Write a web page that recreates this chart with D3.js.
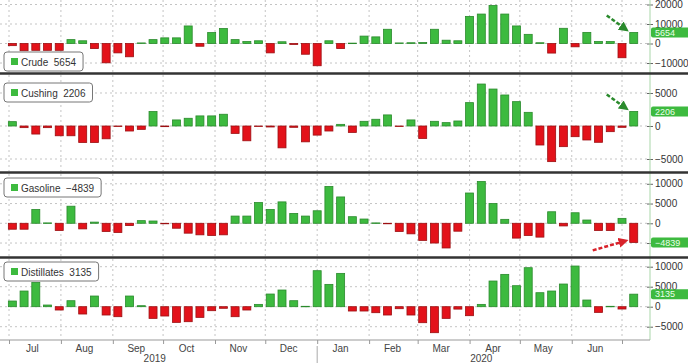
<!DOCTYPE html>
<html>
<head>
<meta charset="utf-8">
<script src="https://cdn.jsdelivr.net/npm/d3@7"></script>
<style>
  body { margin: 0; background: #fff; }
  text { font-family: "Liberation Sans", Arial, sans-serif; }
</style>
</head>
<body>
<div id="chart"></div>
<script>
let width = 688;
let height = 364;

// weekly EIA report dates (Wednesdays), Jul 2019 -> Jul 2020
let weeks = d3.timeWednesday.range(new Date(2019, 6, 3), new Date(2020, 6, 9));

// weekly inventory changes (thousand barrels)
let crude = [-1100, -3700, -3500, -3500, -3500, 2000, 1400, -2600, -9900, -4800, -6800, 300, 2000, 2900, 2900, 9000, -1400, 5600, 7700,
  2000, 1000, 1400, -4800, 900, -500, -5500, -11400, 1400, -2600, 200, 3800, 3400, 7300, 300, 400, 500, 7300, 1700, 1400,
  13900, 15100, 19500, 15100, 9000, 4700, 400, -4900, 7800, -1700, 5700, 1000, 1000, -7300, 5654];
let cushing = [660, -250, -1220, -250, -1480, -1480, -2500, -2500, -1940, -80, -760, -510, 2190, -100, 920, 1170, 1530, 1530, 1780,
  -1120, -2240, -50, -150, -3310, -200, -2400, -1380, -760, 250, -970, 710, 1020, 1680, -80, 920, -1890, 710, 510, 760,
  3540, 6360, 5600, 4700, 3690, 2070, -2880, -5400, -3130, -1620, -2120, -2470, -860, -200, 2206];
let gasoline = [-1500, -1500, 3500, 100, -1830, 4330, -1420, 300, -2080, -2330, -580, 670, 580, -80, -1250, -2500, -2920, -3080, -2920,
  1830, 1830, 5250, 3500, 5420, 2500, 1830, 3170, 9330, 6670, 1670, 1080, 100, -100, -2080, -2670, -4330, -5000, -6250, -2000,
  7670, 10580, 5000, 1000, -3750, -3080, -3500, 2920, -670, 2670, 830, -1830, -1830, 1250, -4839];
let distillates = [1420, 3920, 6080, 420, -830, 1500, -1830, 2670, -2080, -2500, 2670, 250, -2920, -2330, -3920, -3750, -2670, -1000, -400,
  -2500, -830, 580, 3170, 4170, 1500, 100, 9000, 5580, 8330, -1080, -1080, -1500, -2080, -500, -2080, -4000, -6500, -2920, -600,
  -2250, 580, 6420, 8080, 5250, 9750, 3500, 3920, 5670, 10170, 1670, -1420, 100, -580, 3135];

let crudeTicks = [-10000, 0, 10000, 20000];
let cushingTicks = [-5000, 0, 5000];
let gasolineTicks = [-5000, 0, 5000, 10000];
let distillatesTicks = [-5000, 0, 5000, 10000];

let monthLabels = ["Jul", "Aug", "Sep", "Oct", "Nov", "Dec", "Jan", "Feb", "Mar", "Apr", "May", "Jun"];
let yearLabels = ["2019", "2020"];

let green = "#3dba3f", greenDark = "#2a8a2c";
let red = "#e3121a", redDark = "#9c0f12";

// panel layout
let panels = [
  { name: "Crude", values: crude, ticks: crudeTicks, top: 0, bottom: 72, domain: [-14600, 22300], legendY: 52, arrow: "green" },
  { name: "Cushing", values: cushing, ticks: cushingTicks, top: 75, bottom: 171, domain: [-6818, 7727], legendY: 83, arrow: "green" },
  { name: "Gasoline", values: gasoline, ticks: gasolineTicks, top: 174, bottom: 256, domain: [-8280, 12480], legendY: 178, arrow: "red" },
  { name: "Distillates", values: distillates, ticks: distillatesTicks, top: 259, bottom: 339, domain: [-8075, 11925], legendY: 262, arrow: null },
];

let plotRight = 650;

let svg = d3.select("#chart").append("svg").attr("width", width).attr("height", height);

let defs = svg.append("defs");
[["green", greenDark], ["red", "#d8222a"]].forEach(([id, col]) => {
  defs.append("marker").attr("id", "arr-" + id)
    .attr("viewBox", "0 0 10 10").attr("refX", 5).attr("refY", 5)
    .attr("markerWidth", 4).attr("markerHeight", 4).attr("orient", "auto")
    .append("path").attr("d", "M0,0 L10,5 L0,10 z").attr("fill", col);
});

let xScale = d3.scaleTime()
  .domain([new Date(2019, 6, 1), new Date(2020, 6, 1)])
  .range([9, 622]);

let monthStarts = d3.timeMonth.range(new Date(2019, 6, 1), new Date(2020, 6, 2));

panels.forEach((p) => {
  let g = svg.append("g").classed("panel", true);
  let yScale = d3.scaleLinear().domain(p.domain).range([p.bottom, p.top]);

  // grid
  g.selectAll(".hgrid").data(p.ticks).enter().append("line")
    .attr("x1", 0).attr("x2", plotRight)
    .attr("y1", (d) => yScale(d)).attr("y2", (d) => yScale(d))
    .attr("stroke", "#c4c4c4").attr("stroke-dasharray", "2,3");
  g.selectAll(".vgrid").data(monthStarts).enter().append("line")
    .attr("x1", (d) => xScale(d)).attr("x2", (d) => xScale(d))
    .attr("y1", p.top).attr("y2", p.bottom)
    .attr("stroke", "#c4c4c4").attr("stroke-dasharray", "2,3");

  // bars
  let data = p.values.map((v, i) => ({ date: weeks[i], value: v }));
  g.selectAll(".bar").data(data).enter().append("rect")
    .attr("x", (d) => xScale(d.date) - 4)
    .attr("width", 8)
    .attr("y", (d) => Math.min(yScale(d.value), yScale(0)))
    .attr("height", (d) => Math.max(0.5, Math.abs(yScale(d.value) - yScale(0))))
    .attr("fill", (d) => (d.value >= 0 ? green : red))
    .attr("stroke", (d) => (d.value >= 0 ? greenDark : redDark))
    .attr("stroke-width", 0.8);

  let last = data[data.length - 1];
  let ly = yScale(last.value);

  // right axis; a tick label fully under the value tag is left out, as on the original
  let yAxis = d3.axisRight(yScale).tickValues(p.ticks).tickSizeInner(3).tickSizeOuter(0)
    .tickFormat((d) => (Math.abs(yScale(d) - ly) < 4 ? "" : d3.format("d")(d)));
  let ax = g.append("g").attr("transform", `translate(${plotRight},0)`).call(yAxis);
  ax.select(".domain").remove();
  ax.selectAll(".tick line").attr("x1", -3).attr("x2", 3).attr("stroke", "#666");
  ax.selectAll(".tick text").attr("x", 5).attr("fill", "#333").style("font-size", "10px").style("font-family", "Liberation Sans, Arial, sans-serif");

  // last value tag
  g.append("rect").attr("x", plotRight + 1).attr("y", ly - 5).attr("width", 40).attr("height", 10)
    .attr("rx", 2).attr("fill", green);
  g.append("text").attr("x", plotRight + 5).attr("y", ly + 3.2).attr("fill", "#eaffea")
    .style("font-size", "9px").text(d3.format("d")(last.value));

  // legend box
  let lg = g.append("g").attr("transform", `translate(4,${p.legendY})`);
  let box = lg.append("rect").attr("height", 19).attr("rx", 3)
    .attr("fill", "#fff").attr("stroke", "#777").attr("stroke-width", 1);
  lg.append("rect").attr("x", 7).attr("y", 6).attr("width", 7).attr("height", 7).attr("fill", green);
  let lt = lg.append("text").attr("x", 17).attr("y", 13.5).attr("fill", "#333")
    .style("font-size", "10px").text(p.name + "  " + d3.format("d")(last.value));
  lt.attr("xml:space", "preserve");
  box.attr("width", lt.node().getComputedTextLength() + 24);

  // annotation arrows pointing at the latest bar
  if (p.arrow) {
    let cx = xScale(last.date);
    let pts;
    if (p.arrow === "green") {
      pts = [cx - 27, ly - 17, cx - 9, ly - 4];
    } else {
      pts = [cx - 41, ly + 8, cx - 10, ly - 1];
    }
    g.append("line").attr("x1", pts[0]).attr("y1", pts[1]).attr("x2", pts[2]).attr("y2", pts[3])
      .attr("stroke", p.arrow === "green" ? greenDark : "#d8222a")
      .attr("stroke-width", 2.5).attr("stroke-dasharray", "4,2")
      .attr("marker-end", `url(#arr-${p.arrow})`);
  }
});

// right axis line
svg.append("line").attr("x1", plotRight).attr("x2", plotRight).attr("y1", 0).attr("y2", 340)
  .attr("stroke", "#a9d6a9").attr("stroke-width", 1);

// panel separators
[73.5, 172.5, 257.5].forEach((y) => {
  svg.append("line").attr("x1", 0).attr("x2", width).attr("y1", y).attr("y2", y)
    .attr("stroke", "#333").attr("stroke-width", 2.5);
});

// bottom time axis
let xAxis = d3.axisBottom(xScale).tickValues(monthStarts).tickSize(4).tickFormat("");
let xg = svg.append("g").attr("transform", "translate(0,340)").call(xAxis);
xg.select(".domain").attr("d", `M0,0H${plotRight}`).attr("stroke", "#999");
xg.selectAll(".tick line").attr("stroke", "#999");

svg.selectAll(".month").data(monthLabels).enter().append("text")
  .attr("x", (d, i) => xScale(new Date(2019, 6 + i, 15)))
  .attr("y", 352).attr("text-anchor", "middle").attr("fill", "#444")
  .style("font-size", "10px").text((d) => d);

svg.selectAll(".year").data(yearLabels).enter().append("text")
  .attr("x", (d, i) => xScale(i === 0 ? new Date(2019, 8, 26) : new Date(2020, 3, 8)))
  .attr("y", 362).attr("text-anchor", "middle").attr("fill", "#444")
  .style("font-size", "10px").text((d) => d);

// year divider
let jan = xScale(new Date(2020, 0, 1));
svg.append("line").attr("x1", jan).attr("x2", jan).attr("y1", 346).attr("y2", 363)
  .attr("stroke", "#aaa");
</script>
</body>
</html>
